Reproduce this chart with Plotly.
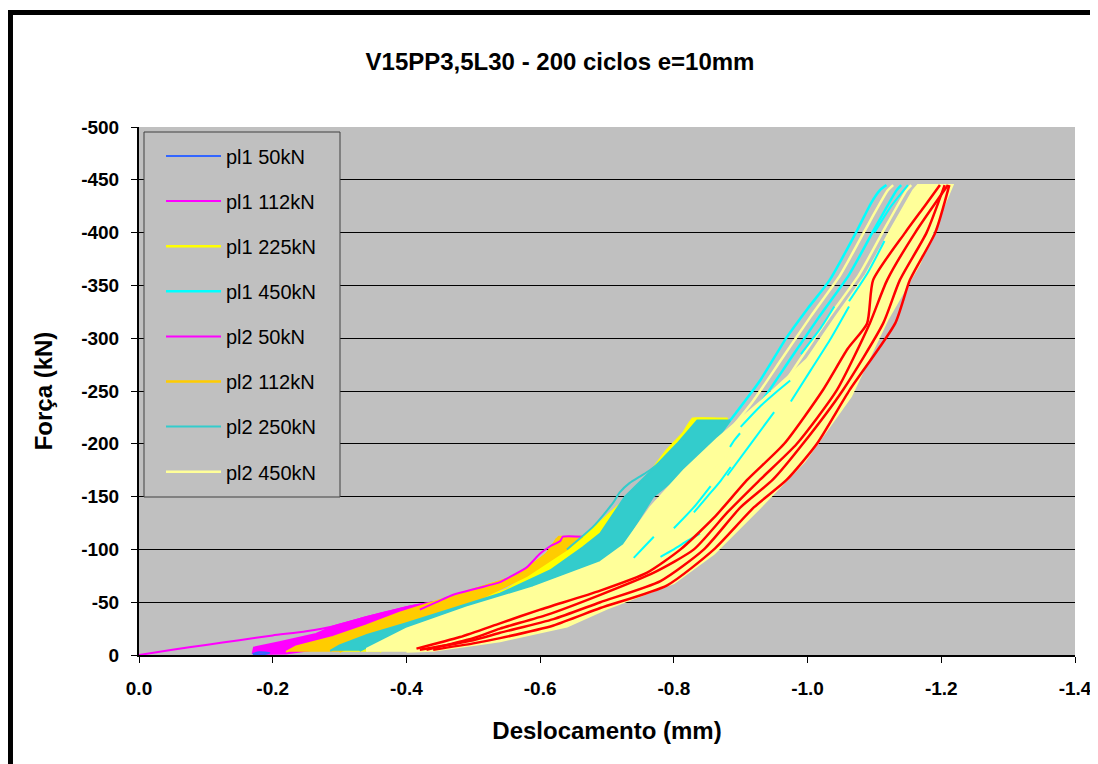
import plotly.graph_objects as go

FONT = "Arial, 'Liberation Sans', sans-serif"

TITLE = "V15PP3,5L30 - 200 ciclos e=10mm"
X_TITLE = "Deslocamento (mm)"
Y_TITLE = "Força (kN)"
X_TICKS = [0.0, -0.2, -0.4, -0.6, -0.8, -1.0, -1.2, -1.4]
X_TICK_LABELS = ["0.0", "-0.2", "-0.4", "-0.6", "-0.8", "-1.0", "-1.2", "-1.4"]
Y_TICKS = [0, -50, -100, -150, -200, -250, -300, -350, -400, -450, -500]
Y_TICK_LABELS = ["0", "-50", "-100", "-150", "-200", "-250", "-300", "-350", "-400", "-450", "-500"]

SERIES_NAMES = ["pl1 50kN", "pl1 112kN", "pl1 225kN", "pl1 450kN",
                "pl2 50kN", "pl2 112kN", "pl2 250kN", "pl2 450kN"]
SERIES_COLORS = ["#3366FF", "#FF00FF", "#FFFF00", "#00FFFF",
                 "#FF00FF", "#FFCC00", "#33CCCC", "#FFFF99"]
EXTRA_COLOR = "#FF0000"

# ---- pl1 50kN (tiny loop near origin of cycles)
PL1_50_X = [-0.170, -0.180, -0.195, -0.188, -0.172]
PL1_50_F = [-1.0, -2.5, -2.0, -1.0, -0.5]

# ---- pl1 112kN (streaks visible above the pl2 112kN band)
PL1_112_X = [-0.420, -0.445, -0.470, -0.505, -0.540, -0.555, -0.580, -0.600, -0.615, -0.630, -0.634, -0.663]
PL1_112_F = [-43, -50, -57, -63, -69, -74, -83, -96, -103, -108, -112, -112]

# ---- pl1 225kN envelope (left edge up, right edge down)
PL1_225_X = [-0.300, -0.350, -0.420, -0.550, -0.600, -0.670, -0.715, -0.740, -0.764, -0.790, -0.814, -0.828,
             -0.880, -0.855, -0.820, -0.765, -0.715, -0.690, -0.550, -0.400, -0.360]
PL1_225_F = [-3, -21, -34, -62, -84, -114, -140, -153, -172, -194, -210, -224,
             -224, -200, -178, -150, -100, -88, -55, -20, -3]
PL1_225_EDGE_X = [-0.600, -0.640, -0.670, -0.715, -0.740, -0.764, -0.790, -0.814, -0.828, -0.870]
PL1_225_EDGE_F = [-84, -100, -114, -140, -153, -172, -194, -210, -223, -223]

# ---- pl1 450kN cycles (left-most loops)
PL1_450_A_X = [-0.725, -0.760, -0.800, -0.845, -0.884, -0.929, -0.969, -1.000, -1.033, -1.074, -1.095, -1.108, -1.118]
PL1_450_A_F = [-110, -125, -155, -190, -222, -260, -301, -328, -355, -402, -428, -440, -445]
PL1_450_B_X = [-0.770, -0.830, -0.880, -0.931, -0.974, -1.017, -1.062, -1.097, -1.133, -1.140]
PL1_450_B_F = [-120, -160, -200, -240, -280, -320, -360, -400, -440, -445]
PL1_450_S1_X = [-0.780, -0.800, -0.820, -0.839]
PL1_450_S1_F = [-93, -100, -108, -115]
PL1_450_S2_X = [-0.884, -0.890, -0.899]
PL1_450_S2_F = [-197, -203, -210]
PL1_450_S3_X = [-0.900, -0.930, -0.955, -0.974]
PL1_450_S3_F = [-216, -236, -250, -260]
PL1_450_S4_X = [-0.740, -0.755, -0.770]
PL1_450_S4_F = [-92, -102, -112]
PL1_450_S5_X = [-0.830, -0.850, -0.870, -0.885]
PL1_450_S5_F = [-135, -150, -165, -178]
PL1_450_S6_X = [-0.975, -1.005, -1.035, -1.062]
PL1_450_S6_F = [-240, -270, -300, -330]
PL1_450_S7_X = [-1.062, -1.090, -1.115]
PL1_450_S7_F = [-335, -362, -392]
PL1_450_S8_X = [-0.880, -0.915, -0.950]
PL1_450_S8_F = [-170, -200, -230]
PL1_450_S9_X = [-0.800, -0.830, -0.855]
PL1_450_S9_F = [-120, -140, -160]
PL1_450_S10_X = [-1.100, -1.125, -1.150]
PL1_450_S10_F = [-400, -425, -445]
PL1_450_S11_X = [-0.990, -1.020, -1.040]
PL1_450_S11_F = [-285, -310, -330]

# ---- pl2 50kN: first loading curve and band of cycles
PL2_50_VIRGIN_X = [0.0, -0.050, -0.100, -0.150, -0.200, -0.250, -0.290, -0.341, -0.405, -0.440]
PL2_50_VIRGIN_F = [0, -5, -9.5, -14, -18.5, -22.5, -27, -36, -46, -50]
PL2_50_BAND_X = [-0.170, -0.172, -0.210, -0.265, -0.290, -0.341, -0.405, -0.440,
                 -0.430, -0.400, -0.330, -0.270, -0.220, -0.175]
PL2_50_BAND_F = [-1, -7, -12, -20, -27, -36, -46, -50,
                 -46, -38, -18, -6, -1.5, -1]

# ---- pl2 112kN band
PL2_112_X = [-0.220, -0.235, -0.290, -0.340, -0.390, -0.465, -0.490, -0.555, -0.589, -0.610, -0.625, -0.628, -0.663,
             -0.640, -0.580, -0.500, -0.400, -0.330, -0.300]
PL2_112_F = [-3, -8, -17, -28, -40, -55, -60, -73, -86, -96, -110, -112, -112,
             -100, -75, -50, -28, -12, -3]
PL2_112_EDGE_X = [-0.465, -0.490, -0.555, -0.589, -0.610, -0.625]
PL2_112_EDGE_F = [-55, -60, -73, -86, -96, -110]

# ---- pl2 250kN band
PL2_250_X = [-0.286, -0.300, -0.341, -0.400, -0.540, -0.615, -0.664, -0.690, -0.727, -0.764, -0.805, -0.835, -0.884,
             -0.859, -0.824, -0.769, -0.720, -0.690, -0.589, -0.490, -0.400, -0.341, -0.330]
PL2_250_F = [-4, -9, -19, -30, -58, -80, -102, -115, -150, -173, -200, -222, -222,
             -200, -178, -150, -100, -88, -64, -45, -25, -7, -4]
PL2_250_EDGE_X = [-0.640, -0.680, -0.709, -0.719, -0.734, -0.749, -0.764, -0.790, -0.815, -0.835]
PL2_250_EDGE_F = [-100, -122, -144, -154, -163, -169, -175, -188, -205, -220]

# ---- pl2 450kN band
PL2_450_X = [-0.341, -0.341, -0.400, -0.490, -0.589, -0.690, -0.725, -0.765, -0.815, -0.865, -0.930, -0.999, -1.042,
             -1.087, -1.122, -1.158, -1.165, -1.217, -1.200, -1.168, -1.119, -1.065, -0.995, -0.925, -0.860, -0.800,
             -0.700, -0.640, -0.540, -0.440, -0.400]
PL2_450_F = [-3, -6, -25, -45, -64, -88, -104, -140, -175, -205, -240, -280, -320,
             -360, -400, -440, -445, -445, -420, -371, -317, -245, -183, -137, -96, -68,
             -44, -27, -13, -4, -3]
PL2_450_L1_X = [-0.867, -0.918, -0.961, -1.004, -1.049, -1.084, -1.120, -1.128]
PL2_450_L1_F = [-200, -240, -280, -320, -360, -400, -440, -445]
PL2_450_L2_X = [-0.840, -0.895, -0.946, -0.989, -1.032, -1.077, -1.112, -1.148, -1.155]
PL2_450_L2_F = [-160, -200, -240, -280, -320, -360, -400, -440, -445]

# ---- extra cycles (red, not in legend)
RED_A_X = [-0.415, -0.480, -0.540, -0.600, -0.690, -0.760, -0.810, -0.860, -0.910, -0.965, -1.023, -1.060, -1.089, -1.098, -1.146, -1.175, -1.198]
RED_A_F = [-6, -17, -30, -43, -61, -78, -100, -130, -166, -200, -251, -290, -314, -355, -400, -425, -445]
RED_B_X = [-0.430, -0.500, -0.540, -0.610, -0.690, -0.770, -0.830, -0.880, -0.929, -0.984, -1.044, -1.093, -1.119, -1.161, -1.210]
RED_B_F = [-5, -16, -25, -38, -57, -78, -100, -135, -166, -200, -251, -314, -355, -400, -445]
RED_C_X = [-0.420, -0.500, -0.540, -0.620, -0.690, -0.780, -0.845, -0.900, -0.948, -0.993, -1.053, -1.113, -1.138, -1.178, -1.205]
RED_C_F = [-5, -14, -21, -34, -50, -70, -100, -140, -166, -200, -251, -314, -355, -400, -445]
RED_D_X = [-0.440, -0.500, -0.540, -0.620, -0.690, -0.790, -0.860, -0.920, -0.969, -1.014, -1.063, -1.131, -1.153, -1.191, -1.212]
RED_D_F = [-5, -11, -16, -28, -44.5, -66, -100, -140, -166, -200, -251, -314, -355, -400, -445]

fig = go.Figure()


def band(x, f, color, group):
    fig.add_trace(go.Scatter(x=x, y=f, mode="lines", fill="toself", fillcolor=color,
                             line=dict(color=color, width=2), legendgroup=group,
                             showlegend=False, hoverinfo="skip"))


def line(x, f, color, group, name=None, rank=None, width=2.5):
    fig.add_trace(go.Scatter(x=x, y=f, mode="lines",
                             line=dict(color=color, width=width, shape="spline", smoothing=0.6),
                             legendgroup=group, name=name if name else group,
                             showlegend=name is not None,
                             legendrank=rank if rank else 1000, hoverinfo="skip"))


N = SERIES_NAMES
C = SERIES_COLORS

# pl1 450kN loops (drawn first, partly covered)
line(PL1_450_A_X, PL1_450_A_F, C[3], N[3], N[3], 4)
line(PL1_450_B_X, PL1_450_B_F, C[3], N[3])
# pl1 225kN
band(PL1_225_X, PL1_225_F, C[2], N[2])
line(PL1_225_EDGE_X, PL1_225_EDGE_F, C[2], N[2], N[2], 3)
# pl2 50kN
band(PL2_50_BAND_X, PL2_50_BAND_F, C[4], N[4])
line(PL2_50_VIRGIN_X, PL2_50_VIRGIN_F, C[4], N[4], N[4], 5, width=2)
# pl2 112kN
band(PL2_112_X, PL2_112_F, C[5], N[5])
line(PL2_112_EDGE_X, PL2_112_EDGE_F, C[5], N[5], N[5], 6)
# pl1 112kN
line(PL1_112_X, PL1_112_F, C[1], N[1], N[1], 2, width=2)
# pl2 250kN
band(PL2_250_X, PL2_250_F, C[6], N[6])
line(PL2_250_EDGE_X, PL2_250_EDGE_F, C[6], N[6], N[6], 7, width=2)
# pl2 450kN
line(PL2_450_L1_X, PL2_450_L1_F, C[7], N[7], N[7], 8)
band(PL2_450_X, PL2_450_F, C[7], N[7])
line(PL2_450_L2_X, PL2_450_L2_F, C[7], N[7])
# pl1 450kN streaks visible inside the pl2 450kN band
for sx, sf in [(PL1_450_S1_X, PL1_450_S1_F), (PL1_450_S2_X, PL1_450_S2_F),
               (PL1_450_S3_X, PL1_450_S3_F), (PL1_450_S4_X, PL1_450_S4_F),
               (PL1_450_S5_X, PL1_450_S5_F), (PL1_450_S6_X, PL1_450_S6_F),
               (PL1_450_S7_X, PL1_450_S7_F), (PL1_450_S8_X, PL1_450_S8_F),
               (PL1_450_S9_X, PL1_450_S9_F), (PL1_450_S10_X, PL1_450_S10_F),
               (PL1_450_S11_X, PL1_450_S11_F)]:
    line(sx, sf, C[3], N[3], width=2)
# red cycles
for rx, rf in [(RED_A_X, RED_A_F), (RED_B_X, RED_B_F), (RED_C_X, RED_C_F), (RED_D_X, RED_D_F)]:
    line(rx, rf, EXTRA_COLOR, "extra", width=2.5)
# pl1 50kN
line(PL1_50_X, PL1_50_F, C[0], N[0], N[0], 1, width=2)

# page body has an 8px margin: figure starts at (8, 8) in the window
fig.update_layout(
    width=1098, height=764,
    margin=dict(l=131, r=31, t=119, b=117),
    paper_bgcolor="white", plot_bgcolor="#C0C0C0",
    font=dict(family=FONT, color="black"),
    title=dict(text=TITLE, x=552 / 1098, xref="container", xanchor="center",
               y=1 - 54 / 764, yref="container", yanchor="middle",
               font=dict(size=24, weight="bold", family=FONT, color="black")),
    showlegend=True,
    legend=dict(x=(161 - 139) / 936, y=0.9905 - 4.5 / 528, xanchor="left", yanchor="top",
                bgcolor="rgba(0,0,0,0)", borderwidth=0,
                font=dict(size=20, family=FONT, color="black"),
                tracegroupgap=16.1, itemwidth=55, traceorder="grouped"),
    xaxis=dict(range=[0, -1.4], tickvals=X_TICKS, ticktext=X_TICK_LABELS,
               ticks="outside", ticklen=6, tickwidth=1, tickcolor="black",
               showline=True, linecolor="black", linewidth=2,
               showgrid=False, zeroline=False,
               tickfont=dict(size=19, weight="bold", family=FONT),
               ticklabelstandoff=9,
               title=dict(text=X_TITLE, standoff=24,
                          font=dict(size=24, weight="bold", family=FONT))),
    yaxis=dict(range=[0, -500], tickvals=Y_TICKS, ticktext=Y_TICK_LABELS,
               ticks="outside", ticklen=6, tickwidth=1, tickcolor="black",
               showline=True, linecolor="black", linewidth=2,
               showgrid=True, gridcolor="black", gridwidth=1, zeroline=False,
               tickfont=dict(size=19, weight="bold", family=FONT),
               ticklabelstandoff=8,
               title=dict(text=Y_TITLE, standoff=22,
                          font=dict(size=24, weight="bold", family=FONT))),
    shapes=[
        # legend box
        dict(type="rect", xref="paper", yref="paper",
             x0=(144 - 139) / 936, x1=(340 - 139) / 936,
             y0=(655 - 497) / 528, y1=(655 - 132) / 528,
             fillcolor="#C0C0C0", line=dict(color="#404040", width=1), layer="above"),
        # outer chart frame
        dict(type="rect", xref="paper", yref="paper",
             x0=-0.1373, x1=1.2, y0=-0.5, y1=1.2169,
             line=dict(color="black", width=5), layer="above"),
    ],
)

fig.write_html("out.html")
